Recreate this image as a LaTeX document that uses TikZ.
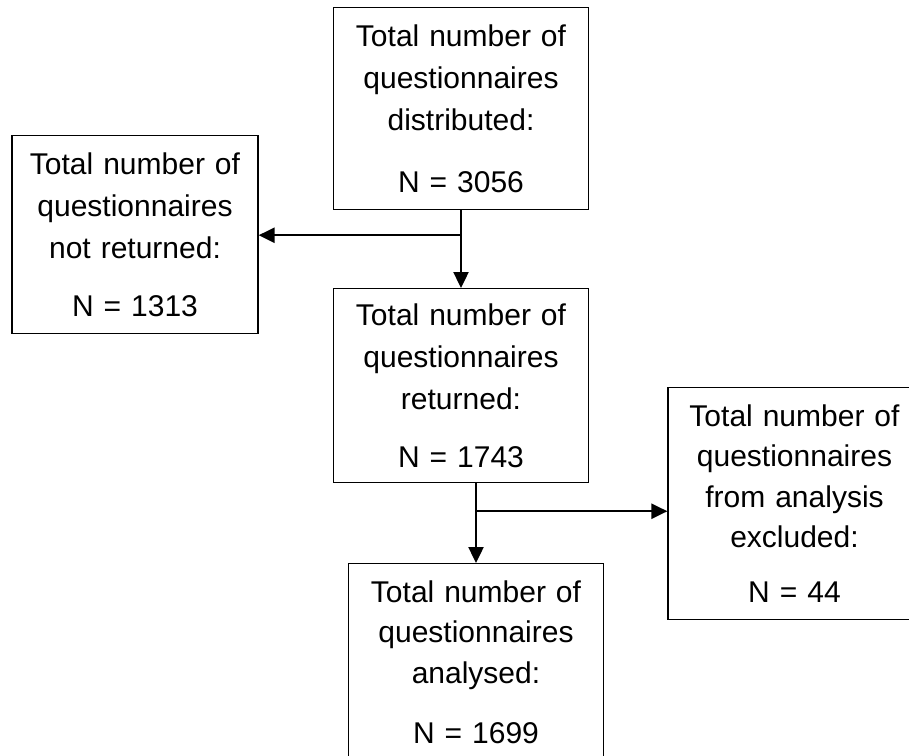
\documentclass[tikz,border=0pt]{standalone}
\usepackage{fontspec}
\setmainfont{Liberation Sans}
\usetikzlibrary{arrows.meta,calc}

\begin{document}
\begin{tikzpicture}[x=1pt,y=-1pt,
  box/.style={draw, line width=1.2pt, anchor=north, align=center,
    minimum width=255pt, text width=235pt, inner ysep=17pt,
    font=\fontsize{30}{42}\selectfont},
  arr/.style={line width=2.4pt, -{Triangle[width=15pt,length=16pt]}}]

\clip (0,0) rectangle (909,755);

\node[box] (D) at (461,7)
  {Total number of\\ questionnaires\\ distributed:\\[20pt] N = 3056};

\node[box, minimum width=246pt, text width=226pt] (NR) at (135,135)
  {Total number of\\ questionnaires\\ not returned:\\[16pt] N = 1313};

\node[box, inner ysep=15pt] (R) at (461,288)
  {Total number of\\ questionnaires\\ returned:\\[16pt] N = 1743};

\node[box, minimum width=253pt,
  font=\fontsize{30}{40.5}\selectfont] (EX) at (794.5,387)
  {Total number of\\ questionnaires\\ from analysis\\ excluded:\\[14pt] N = 44};

\node[box, font=\fontsize{30}{40.5}\selectfont] (A) at (476,563)
  {Total number of\\ questionnaires\\ analysed:\\[20pt] N = 1699};

% distributed -> returned / not returned
\coordinate (s1) at ([yshift=-25pt]D.south);
\draw[arr] (D.south) -- (R.north);
\draw[arr] (s1) -- (s1 -| NR.east);

% returned -> analysed / excluded
\coordinate (s2) at ([yshift=-28pt]R.south -| A.north);
\draw[arr] (R.south -| A.north) -- (A.north);
\draw[arr] (s2) -- (s2 -| EX.west);

\end{tikzpicture}
\end{document}
